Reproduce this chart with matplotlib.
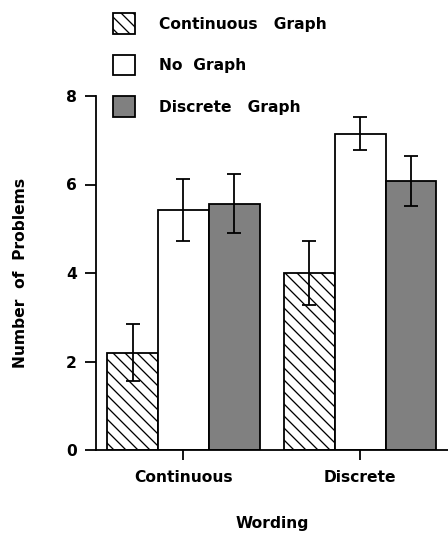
import matplotlib
matplotlib.use("Agg")
import matplotlib.pyplot as plt
import numpy as np

plt.rcParams['font.family'] = ['DejaVu Sans']
plt.rcParams['font.weight'] = 'bold'
plt.rcParams['hatch.linewidth'] = 1.3

categories = ["Continuous", "Discrete"]
series_names = ["Continuous   Graph", "No  Graph", "Discrete   Graph"]
continuous_graph = [2.2, 4.0]
continuous_graph_err = [0.65, 0.73]
no_graph = [5.43, 7.15]
no_graph_err = [0.70, 0.37]
discrete_graph = [5.57, 6.08]
discrete_graph_err = [0.67, 0.57]
yticks = [0, 2, 4, 6, 8]

DPI = 72
FS = 15.5
fig = plt.figure(figsize=(448 / DPI, 540 / DPI), dpi=DPI)
ax = fig.add_axes([96 / 448, 1 - 450 / 540, 1 - 96 / 448, (450 - 96) / 540])

x = np.arange(len(categories))
w = 0.287
styles = [
    dict(facecolor='white', hatch='\\\\'),
    dict(facecolor='white', hatch=None),
    dict(facecolor='#808080', hatch=None),
]
vals = [continuous_graph, no_graph, discrete_graph]
errs = [continuous_graph_err, no_graph_err, discrete_graph_err]
handles = []
for i, (v, e, st) in enumerate(zip(vals, errs, styles)):
    b = ax.bar(x + (i - 1) * w, v, width=w, edgecolor='black', linewidth=1.8,
               yerr=e, capsize=7, error_kw=dict(elinewidth=1.8, capthick=1.8, ecolor='black'),
               zorder=2, **st)
    handles.append(b)

ax.set_xlim(-0.495, 1.497)
ax.set_ylim(0, 8)
ax.set_yticks(yticks)
ax.set_xticks(x)
ax.set_xticklabels(categories)
for s in ['top', 'right']:
    ax.spines[s].set_visible(False)
for s in ['left', 'bottom']:
    ax.spines[s].set_linewidth(1.8)
ax.tick_params(axis='y', direction='out', length=11, width=1.8, labelsize=FS, pad=8)
ax.tick_params(axis='x', direction='out', length=10, width=1.8, labelsize=FS, pad=10)

ax.set_ylabel("Number  of  Problems", fontsize=FS, fontweight='bold', labelpad=38)
ax.set_xlabel("Wording", fontsize=FS, fontweight='bold', labelpad=31)

leg = fig.legend(handles=[h.patches[0] for h in handles], labels=series_names,
                 loc='upper left', bbox_to_anchor=(113 / 448, 1 - 13 / 540),
                 frameon=False, fontsize=FS, handlelength=1.45, handleheight=1.7,
                 labelspacing=1.33, handletextpad=1.5, borderpad=0, borderaxespad=0)

fig.savefig("out.png", dpi=DPI)
